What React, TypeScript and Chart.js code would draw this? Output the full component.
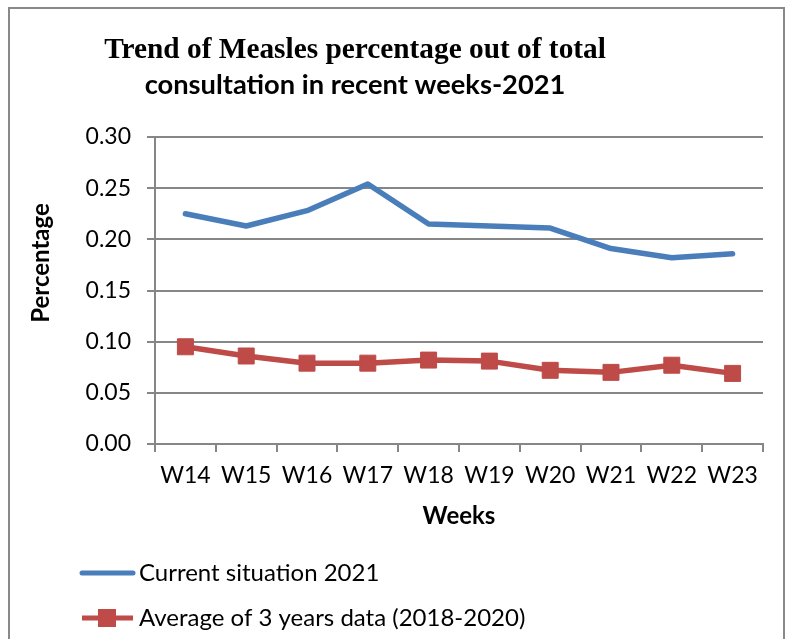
import React, { useEffect, useRef } from "react";
import { Chart, registerables } from "chart.js";

Chart.register(...registerables);

const categories = ["W14", "W15", "W16", "W17", "W18", "W19", "W20", "W21", "W22", "W23"];
const current2021 = [0.225, 0.213, 0.228, 0.254, 0.215, 0.213, 0.211, 0.191, 0.182, 0.186];
const average3y = [0.095, 0.086, 0.079, 0.079, 0.082, 0.081, 0.072, 0.070, 0.077, 0.069];
const yTicks = [0, 0.05, 0.1, 0.15, 0.2, 0.25, 0.3];
const seriesNames = ["Current situation 2021", "Average of 3 years data (2018-2020)"];
const titleLines = ["Trend of Measles percentage out of total", "consultation in recent weeks-2021"];
const xTitle = "Weeks";
const yTitle = "Percentage";

const BLUE = "#4A7EBB";
const RED = "#BE4B48";
const GRID = "#868686";
const FONT = "Lato";

function makeSample(withSquare: boolean): HTMLCanvasElement {
  const c = document.createElement("canvas");
  c.width = 114;
  c.height = 20;
  const g = c.getContext("2d")!;
  g.lineWidth = 5;
  if (withSquare) {
    g.strokeStyle = RED;
    g.lineCap = "butt";
    g.beginPath();
    g.moveTo(60, 10);
    g.lineTo(111, 10);
    g.stroke();
    g.fillStyle = RED;
    g.fillRect(76, 1, 18, 18);
  } else {
    g.strokeStyle = BLUE;
    g.lineCap = "round";
    g.beginPath();
    g.moveTo(60, 10);
    g.lineTo(111, 10);
    g.stroke();
  }
  return c;
}

function fitFont(ctx: CanvasRenderingContext2D, text: string, family: string, base: number, target: number) {
  ctx.font = `bold ${base}px ${family}`;
  const w = ctx.measureText(text).width;
  const size = base * target / w;
  ctx.font = `bold ${size}px ${family}`;
}

const textPlugin = {
  id: "customTexts",
  afterDraw(chart: any) {
    const ctx: CanvasRenderingContext2D = chart.ctx;
    const area = chart.chartArea;
    ctx.save();
    ctx.fillStyle = "#000";
    ctx.textAlign = "center";
    ctx.textBaseline = "alphabetic";
    fitFont(ctx, titleLines[0], '"Liberation Serif"', 29, 502);
    ctx.fillText(titleLines[0], 355, 58);
    fitFont(ctx, titleLines[1], FONT, 27, 421);
    ctx.fillText(titleLines[1], 355, 94);
    ctx.translate(41, area.top + 126);
    ctx.rotate(-Math.PI / 2);
    ctx.textBaseline = "middle";
    ctx.font = `bold 24px ${FONT}`;
    ctx.fillText(yTitle, 0, 0);
    ctx.restore();
  },
};

export default function App() {
  const ref = useRef<HTMLCanvasElement | null>(null);

  useEffect(() => {
    if (!ref.current) return;
    const samples = [makeSample(false), makeSample(true)];
    const chart = new Chart(ref.current, {
      type: "line",
      data: {
        labels: categories,
        datasets: [
          {
            label: seriesNames[0],
            data: current2021,
            borderColor: BLUE,
            backgroundColor: BLUE,
            borderWidth: 5.5,
            pointRadius: 0,
            pointHoverRadius: 0,
            borderJoinStyle: "round",
            borderCapStyle: "round",
            tension: 0,
          },
          {
            label: seriesNames[1],
            data: average3y,
            borderColor: RED,
            backgroundColor: RED,
            borderWidth: 5.5,
            pointStyle: "rect",
            pointRadius: 11.3,
            pointBorderWidth: 1,
            pointBackgroundColor: RED,
            pointBorderColor: RED,
            borderJoinStyle: "round",
            tension: 0,
          },
        ],
      },
      options: {
        animation: false,
        responsive: false,
        maintainAspectRatio: false,
        layout: { padding: { top: 137, left: 10, right: 22, bottom: 0 } },
        plugins: {
          title: { display: false },
          tooltip: { enabled: false },
          legend: {
            display: true,
            position: "bottom",
            align: "start",
            labels: {
              usePointStyle: true,
              pointStyleWidth: 96,
              padding: 21,
              color: "#000",
              font: { family: FONT, size: 24 },
              generateLabels: (c: any) => {
                const items = (Chart.defaults.plugins.legend.labels as any).generateLabels(c);
                items.forEach((it: any, i: number) => {
                  it.pointStyle = samples[i];
                });
                return items;
              },
            },
          },
        },
        scales: {
          x: {
            type: "category",
            offset: true,
            afterFit: (s: any) => {
              s.height = 96;
            },
            grid: {
              display: true,
              offset: true,
              drawOnChartArea: false,
              drawTicks: true,
              tickLength: 8,
              color: GRID,
              lineWidth: 2,
            },
            border: { display: true, color: GRID, width: 2 },
            ticks: {
              color: "#000",
              padding: 10,
              maxRotation: 0,
              autoSkip: false,
              font: { family: FONT, size: 23 },
            },
            title: {
              display: true,
              text: xTitle,
              color: "#000",
              font: { family: FONT, size: 24, weight: "bold" },
              padding: { top: 0, bottom: 9 },
            },
          },
          y: {
            min: yTicks[0],
            max: yTicks[yTicks.length - 1],
            afterFit: (s: any) => {
              s.width = 145;
            },
            afterBuildTicks: (s: any) => {
              s.ticks = yTicks.map((v) => ({ value: v }));
            },
            grid: {
              display: true,
              drawTicks: true,
              tickLength: 8,
              color: GRID,
              lineWidth: 2,
            },
            border: { display: true, color: GRID, width: 2 },
            ticks: {
              color: "#000",
              padding: 16,
              font: { family: FONT, size: 23 },
              callback: (v: any) => Number(v).toFixed(2),
            },
            title: { display: false },
          },
        },
      },
      plugins: [textPlugin],
    } as any);
    return () => chart.destroy();
  }, []);

  return (
    <div style={{ position: "absolute", left: 0, top: 0, width: 785, height: 639, overflow: "hidden", background: "#fff" }}>
      <canvas ref={ref} width={785} height={640} style={{ position: "absolute", left: 0, top: 0, width: 785, height: 640 }} />
      <div
        style={{
          position: "absolute",
          left: 8,
          top: 7,
          width: 777,
          height: 700,
          border: "2px solid #898989",
          boxSizing: "border-box",
          pointerEvents: "none",
        }}
      />
    </div>
  );
}
